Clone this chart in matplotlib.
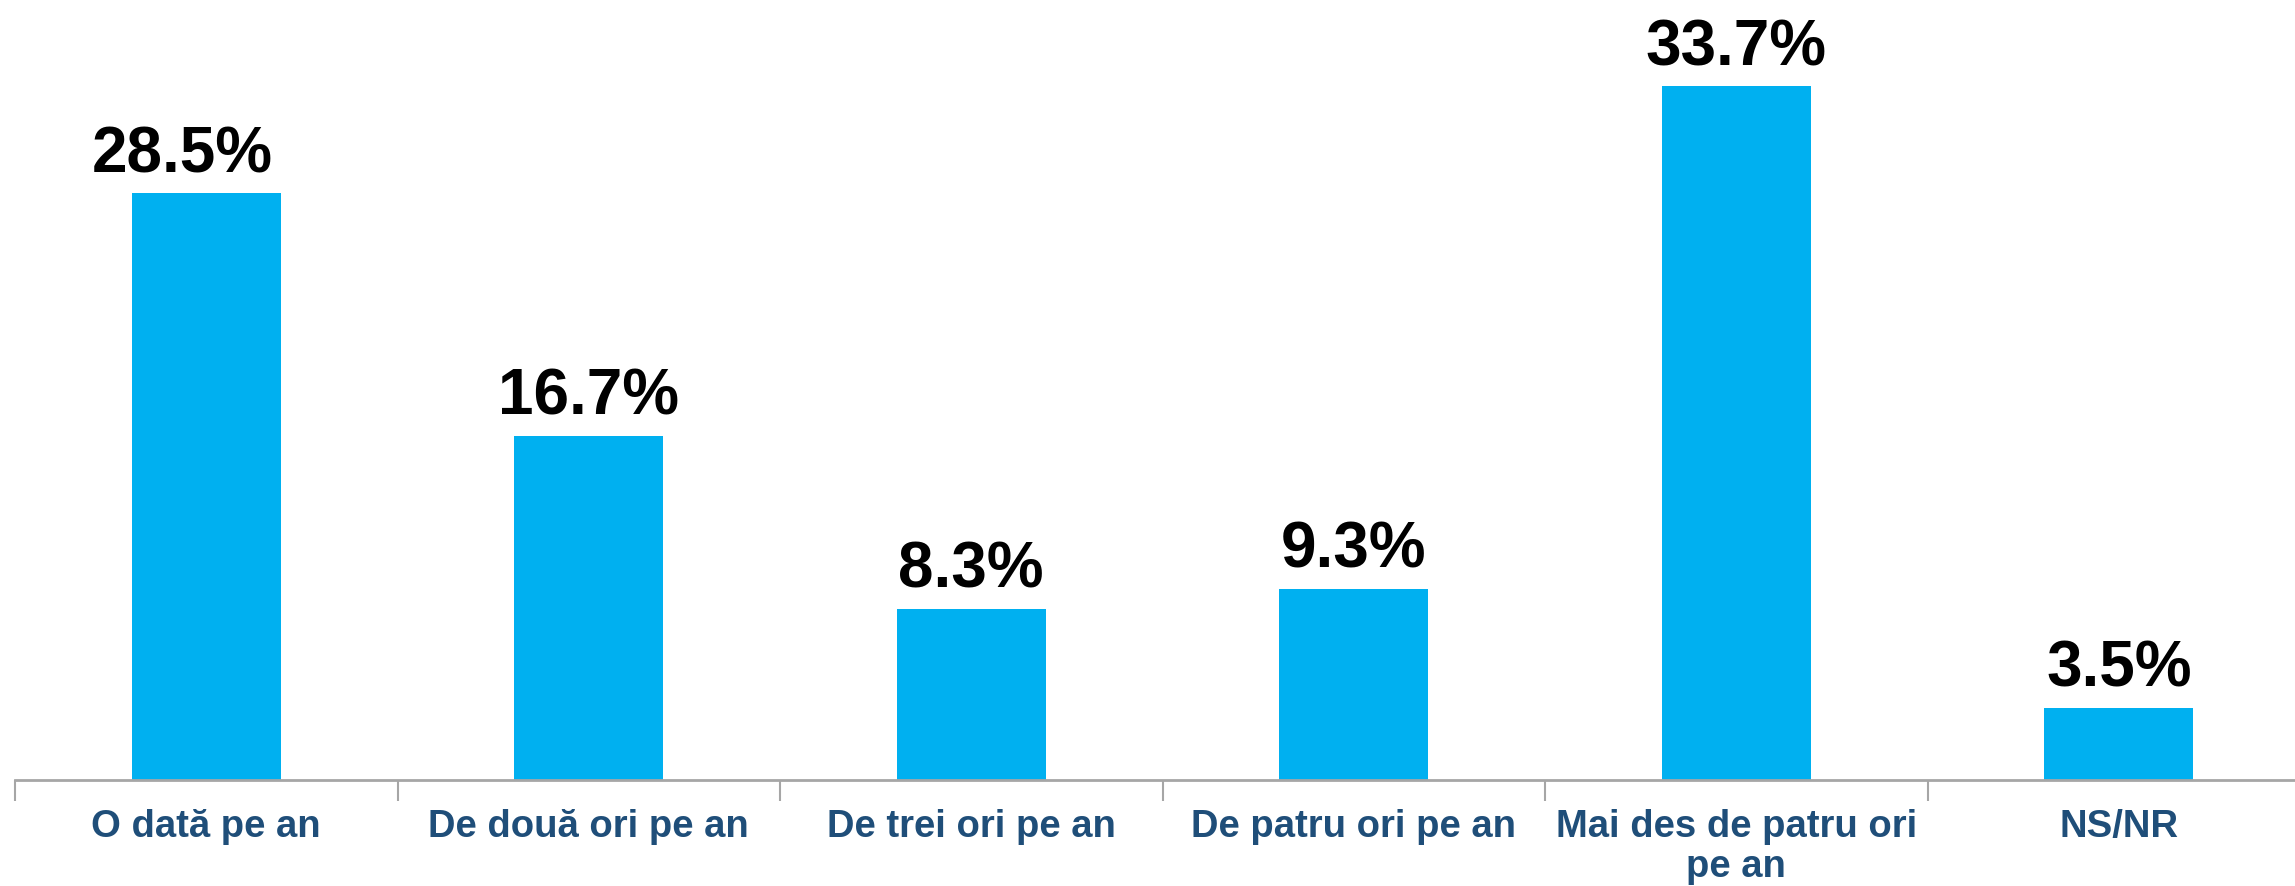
import matplotlib.pyplot as plt
import numpy as np

categories = ["O dată pe an", "De două ori pe an", "De trei ori pe an",
              "De patru ori pe an", "Mai des de patru ori\npe an", "NS/NR"]
values = [28.5, 16.7, 8.3, 9.3, 33.7, 3.5]

# horizontal nudge of the value labels (points), first one sits a bit left in the original
label_dx = [-17, 0, 0, 0, 0, 0]

plt.rcParams['font.family'] = ['Liberation Sans', 'DejaVu Sans']

fig = plt.figure(figsize=(22.95, 8.86), dpi=100)
ax = fig.add_axes([15 / 2295, 106 / 886, 1.0, 780 / 886])

x = np.arange(len(categories))
bars = ax.bar(x, values, width=0.39, color='#00B0F0', zorder=2)

for b, v, dx in zip(bars, values, label_dx):
    ax.annotate(f"{v:.1f}%", (b.get_x() + b.get_width() / 2, v),
                xytext=(dx, 6), textcoords='offset points',
                ha='center', va='bottom', fontsize=46, fontweight='bold', color='black')

ax.set_xlim(-0.5, 5.5)
ax.set_ylim(0, 37.9)
ax.set_xticks(x)
ax.set_xticklabels(categories, fontsize=27.5, fontweight='bold', color='#1F4E79',
                   linespacing=1.15)
ax.set_xticks(np.arange(-0.5, 6, 1), minor=True)
ax.tick_params(axis='x', which='major', length=0, pad=21)
ax.tick_params(axis='x', which='minor', length=15, width=1.5, color='#A6A6A6')
ax.set_yticks([])
for s in ['top', 'right', 'left']:
    ax.spines[s].set_visible(False)
ax.spines['bottom'].set_color('#A6A6A6')
ax.spines['bottom'].set_linewidth(2)

fig.savefig("out.png", dpi=100)
